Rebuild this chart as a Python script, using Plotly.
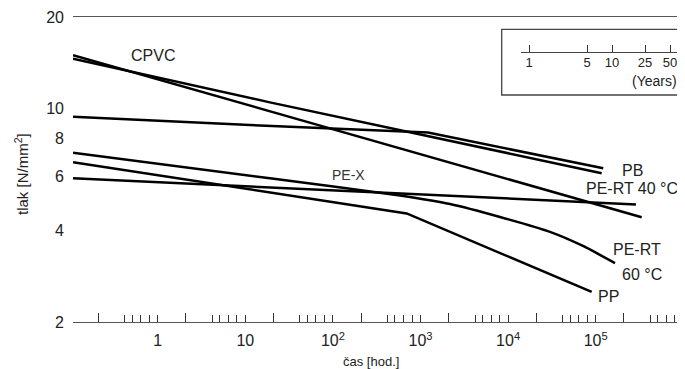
import plotly.graph_objects as go

# ---------------- data ----------------
# time [h] and pressure [N/mm^2] for each curve
cpvc_a_x = [0.108, 335000]
cpvc_a_y = [15.0, 4.41]

cpvc_b_x = [0.108, 19.1, 117000]
cpvc_b_y = [14.6, 10.5, 6.15]

pb_x = [0.108, 11.3, 1218, 122000]
pb_y = [9.42, 8.85, 8.36, 6.38]

pex_x = [0.108, 288000]
pex_y = [5.92, 4.86]

pp_x = [0.108, 695, 90000]
pp_y = [6.68, 4.54, 2.51]

pert60_x = [0.108, 19.1, 583, 2172, 8075, 30060, 71600, 166000]
pert60_y = [7.18, 5.92, 5.20, 4.875, 4.42, 3.95, 3.55, 3.12]

# axis ticks
y_tick_vals = [2, 4, 6, 8, 10, 20]
y_tick_text = ["2", "4", "6", "8", "10", "20"]
x_label_vals = [1, 10, 100, 1000, 10000, 100000]
x_label_text = ["1", "10", "10<sup>2</sup>", "10<sup>3</sup>", "10<sup>4</sup>", "10<sup>5</sup>"]
x_short_mult = [0.42, 0.51, 0.64, 0.8, 1.0]
x_long_mult = 2.1
x_decades = [-1, 0, 1, 2, 3, 4, 5, 6]

years_vals = [1, 5, 10, 25, 50]
years_text = ["1", "5", "10", "25", "50"]

# ---------------- figure ----------------
FONT = "Liberation Sans, Arial, sans-serif"
TXT = "#222"

short_ticks, short_text = [], []
for k in x_decades:
    for m in x_short_mult:
        v = m * 10 ** k
        short_ticks.append(v)
        if m == 1.0 and v in x_label_vals:
            short_text.append(x_label_text[x_label_vals.index(v)])
        else:
            short_text.append("")
long_ticks = [x_long_mult * 10 ** k for k in x_decades]

fig = go.Figure()
line_style = dict(color="black", width=2.5)
for xs, ys in [(cpvc_a_x, cpvc_a_y), (cpvc_b_x, cpvc_b_y), (pb_x, pb_y),
               (pex_x, pex_y), (pp_x, pp_y)]:
    fig.add_trace(go.Scatter(x=xs, y=ys, mode="lines", line=line_style,
                             showlegend=False, hoverinfo="skip"))
fig.add_trace(go.Scatter(x=pert60_x, y=pert60_y, mode="lines",
                         line=dict(color="black", width=2.5, shape="spline", smoothing=0.5),
                         showlegend=False, hoverinfo="skip"))

# inset (years) axis carrier
fig.add_trace(go.Scatter(x=[years_vals[0]], y=[0], xaxis="x2", yaxis="y2",
                         mode="markers", marker=dict(opacity=0), showlegend=False,
                         hoverinfo="skip"))

OFF = 8  # page body margin
PAGE_W, PAGE_H = 685, 369
W, H = PAGE_W - OFF, PAGE_H - OFF
PL, PR, PT, PB = 73, 685, 17, 322  # plot area in page pixels
L, R, T, B = PL - OFF, 0, PT - OFF, H + OFF - PB
pw, ph = PR - PL, PB - PT

def px(x):
    return (x - PL) / pw

def py(y):
    return (PB - y) / ph

fig.update_layout(
    width=W, height=H,
    margin=dict(l=L, r=R, t=T, b=B, pad=0),
    paper_bgcolor="white", plot_bgcolor="white",
    font=dict(family=FONT, color=TXT, size=16),
    xaxis=dict(
        type="log", range=[-0.9669, 6.0194],
        showline=True, linecolor="#555", linewidth=1.3, mirror=True,
        showgrid=False, zeroline=False,
        tickmode="array", tickvals=short_ticks, ticktext=short_text,
        ticks="inside", ticklen=7, tickwidth=1, tickcolor="#333",
        tickfont=dict(size=16, color=TXT), ticklabelstandoff=4,
        minor=dict(tickmode="array", tickvals=long_ticks, ticks="inside",
                   ticklen=9, tickwidth=1, tickcolor="#333"),
    ),
    yaxis=dict(
        type="log", range=[0.30103, 1.30103],
        showline=False, showgrid=False, zeroline=False,
        tickmode="array", tickvals=y_tick_vals, ticktext=y_tick_text,
        ticks="", tickfont=dict(size=16, color=TXT), ticklabelstandoff=8,
    ),
    xaxis2=dict(
        type="log", range=[-0.1007, 1.7788],
        domain=[px(520.7), px(676.7)], anchor="y2",
        showline=True, linecolor="#444", linewidth=1.2,
        showgrid=False, zeroline=False,
        tickmode="array", tickvals=years_vals, ticktext=years_text,
        ticks="inside", ticklen=7, tickwidth=1, tickcolor="#333",
        tickfont=dict(size=13, color=TXT), ticklabelstandoff=-2,
    ),
    yaxis2=dict(domain=[py(52.3), py(40)], anchor="x2", visible=False, range=[0, 1]),
    shapes=[dict(type="rect", xref="paper", yref="paper",
                 x0=px(501.7), x1=px(680), y0=py(95), y1=py(29.3),
                 line=dict(color="#444", width=1.3), fillcolor="rgba(0,0,0,0)")],
)

def ann(text, x, y, size=16, color=TXT, angle=0):
    fig.add_annotation(text=text, xref="paper", yref="paper", x=px(x), y=py(y),
                       showarrow=False, font=dict(size=size, color=color, family=FONT),
                       textangle=angle, xanchor="center", yanchor="middle")

ann("CPVC", 153, 55)
ann("PE-X", 348, 175, size=14, color="#333")
ann("PB", 632, 170)
ann("PE-RT 40 °C", 632, 188)
ann("PE-RT", 637, 249)
ann("60 °C", 642, 274)
ann("PP", 608, 296)
ann("(Years)", 654.7, 81, size=14)
ann("čas [hod.]", 370.5, 361, size=13)
ann("tlak [N/mm<sup>2</sup>]", 21, 174, size=15, angle=-90)

fig.write_html("out.html")
